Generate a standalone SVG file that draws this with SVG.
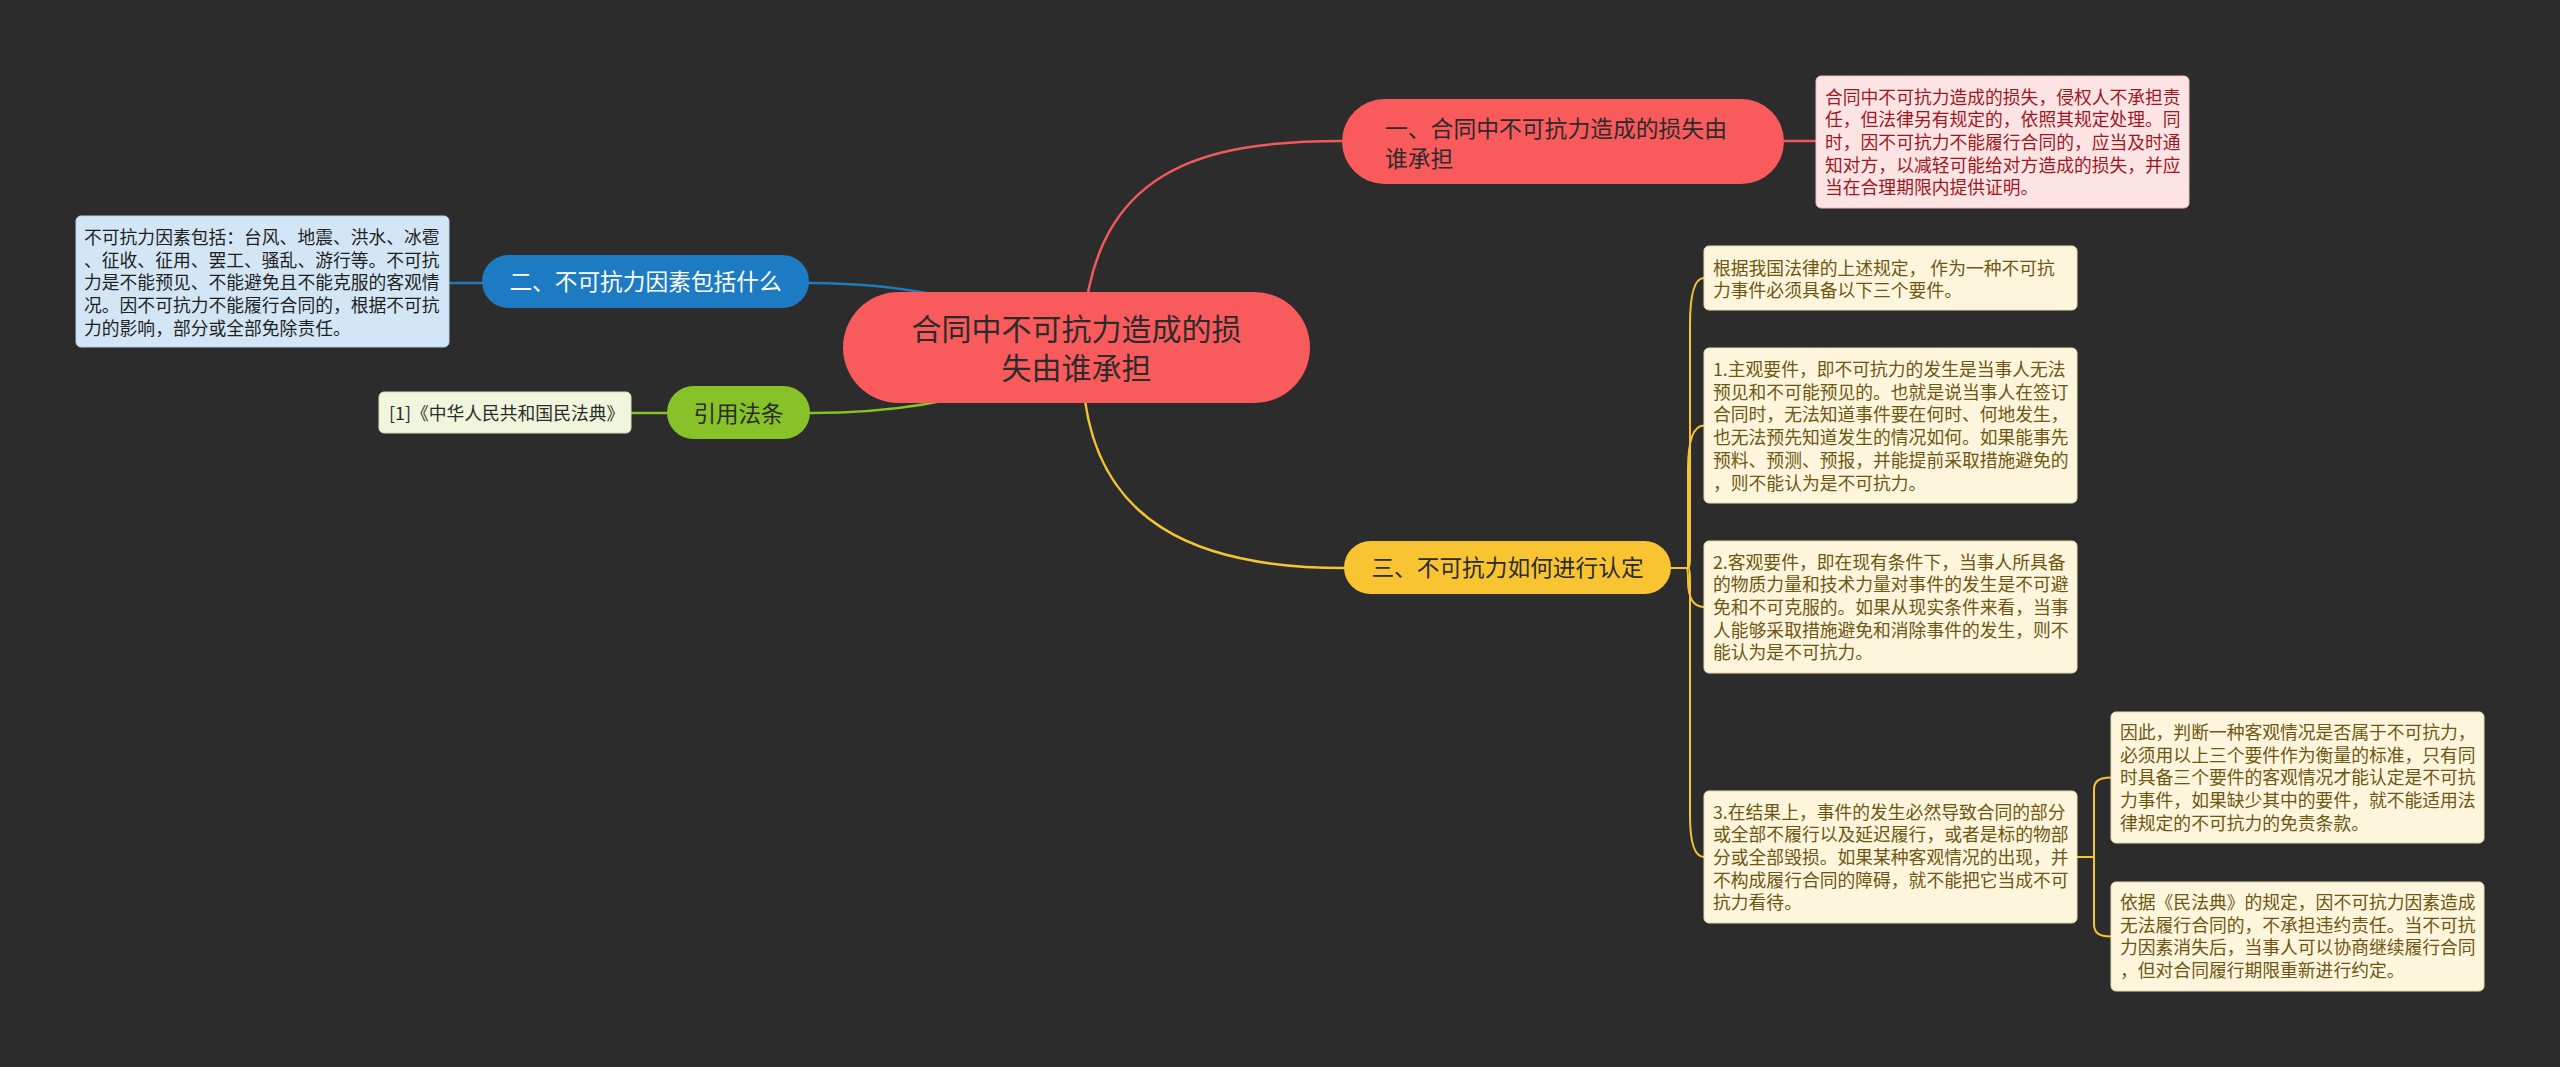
<svg xmlns="http://www.w3.org/2000/svg" width="2560" height="1067" viewBox="0 0 2560 1067">
<style>
text{font-family:"Noto Sans CJK SC","Noto Sans",sans-serif}
.ln{fill:none;stroke-width:2.5;stroke-linecap:round}
.t18{font-size:17.8px}
.ybox{fill:#fdf5dc;stroke:#e9dcae;stroke-width:1}
.ytx{fill:#6e5712}
</style>
<rect width="2560" height="1067" fill="#2c2c2c"/>
<g id="connectors">
<path class="ln" stroke="#f0595b" d="M1083,330 C1095,170 1200,141 1342,141"/>
<path class="ln" stroke="#f0595b" d="M1784,141 H1816"/>
<path class="ln" stroke="#1f7ac0" d="M1076,347 C1000,300 900,283 809,283"/>
<path class="ln" stroke="#1f7ac0" d="M482,283 H449"/>
<path class="ln" stroke="#86c228" d="M1076,347 C1000,400 900,413 810,413"/>
<path class="ln" stroke="#86c228" d="M667,413 H631"/>
<path class="ln" stroke="#f6c433" d="M1083,380 C1092,525 1200,568 1344,568"/>
<g stroke="#f6c433" fill="none" stroke-width="2">
<path d="M1671,568 H1688 C1690,568 1690,560 1690,550 V325 C1690,295 1694,278 1704,278"/>
<path d="M1671,568 H1688 V470 C1688,440 1693,425.5 1704,425.5"/>
<path d="M1671,568 H1686 C1688,568 1688,575 1688,580 C1688,598 1693,607 1704,607"/>
<path d="M1671,568 H1688 C1690,568 1690,576 1690,586 V815 C1690,842 1694,857 1704,857"/>
<path d="M2077,857 H2094 V790 C2094,781 2099,777.5 2111,777.5"/>
<path d="M2077,857 H2094 V924 C2094,933 2099,936.5 2111,936.5"/>
</g>
</g>
<g id="root">
<rect x="843" y="292" width="467" height="111" rx="55.5" fill="#f95a5c"/>
<text x="1076.5" y="339.5" font-size="30" text-anchor="middle" fill="#2b2b2b">合同中不可抗力造成的损</text>
<text x="1076.5" y="378.5" font-size="30" text-anchor="middle" fill="#2b2b2b">失由谁承担</text>
</g>
<g id="node1">
<rect x="1342" y="99" width="442" height="85" rx="42.5" fill="#f95a5c"/>
<text x="1385" y="137" font-size="22.8" fill="#2b2b2b">一、合同中不可抗力造成的损失由</text>
<text x="1385" y="167" font-size="22.8" fill="#2b2b2b">谁承担</text>
</g>
<g id="node1-detail">
<rect x="1816" y="76" width="373" height="132" rx="5" fill="#fde4e4" stroke="#eab9b9"/>
<g class="t18" fill="#a1161d">
<text x="1825" y="103.5">合同中不可抗力造成的损失，侵权人不承担责</text>
<text x="1825" y="126.2">任，但法律另有规定的，依照其规定处理。同</text>
<text x="1825" y="148.9">时，因不可抗力不能履行合同的，应当及时通</text>
<text x="1825" y="171.6">知对方，以减轻可能给对方造成的损失，并应</text>
<text x="1825" y="194.3">当在合理期限内提供证明。</text>
</g>
</g>
<g id="node2">
<rect x="482" y="255" width="327" height="53" rx="26.5" fill="#1c7bc3"/>
<text x="645.5" y="290.3" font-size="22.7" text-anchor="middle" fill="#ffffff">二、不可抗力因素包括什么</text>
</g>
<g id="node2-detail">
<rect x="76" y="216" width="373" height="131" rx="5" fill="#d3e6f5" stroke="#b7d2e8"/>
<g class="t18" fill="#1f1f1f">
<text x="84" y="244">不可抗力因素包括：台风、地震、洪水、冰雹</text>
<text x="84" y="266.7">、征收、征用、罢工、骚乱、游行等。不可抗</text>
<text x="84" y="289.4">力是不能预见、不能避免且不能克服的客观情</text>
<text x="84" y="312.1">况。因不可抗力不能履行合同的，根据不可抗</text>
<text x="84" y="334.8">力的影响，部分或全部免除责任。</text>
</g>
</g>
<g id="node-ref">
<rect x="667" y="386" width="143" height="53" rx="26.5" fill="#86c228"/>
<text x="738.5" y="421.7" font-size="22.5" text-anchor="middle" fill="#2b2b2b">引用法条</text>
</g>
<g id="node-ref-detail">
<rect x="379" y="392" width="252" height="41" rx="5" fill="#eff6dc" stroke="#d3e3b0"/>
<text x="389" y="419.8" class="t18" fill="#2b2b2b">[1]《中华人民共和国民法典》</text>
</g>
<g id="node3">
<rect x="1344" y="541" width="327" height="53" rx="26.5" fill="#f8c432"/>
<text x="1507.5" y="576.2" font-size="22.7" text-anchor="middle" fill="#2b2b2b">三、不可抗力如何进行认定</text>
</g>
<g id="node3-a">
<rect class="ybox" x="1704" y="246" width="373" height="64" rx="5"/>
<g class="t18 ytx">
<text x="1713" y="274.5">根据我国法律的上述规定， 作为一种不可抗</text>
<text x="1713" y="297.2">力事件必须具备以下三个要件。</text>
</g>
</g>
<g id="node3-b">
<rect class="ybox" x="1704" y="348" width="373" height="155" rx="5"/>
<g class="t18 ytx">
<text x="1713" y="376">1.主观要件，即不可抗力的发生是当事人无法</text>
<text x="1713" y="398.7">预见和不可能预见的。也就是说当事人在签订</text>
<text x="1713" y="421.4">合同时，无法知道事件要在何时、何地发生，</text>
<text x="1713" y="444.1">也无法预先知道发生的情况如何。如果能事先</text>
<text x="1713" y="466.8">预料、预测、预报，并能提前采取措施避免的</text>
<text x="1713" y="489.5">，则不能认为是不可抗力。</text>
</g>
</g>
<g id="node3-c">
<rect class="ybox" x="1704" y="541" width="373" height="132" rx="5"/>
<g class="t18 ytx">
<text x="1713" y="568.5">2.客观要件，即在现有条件下，当事人所具备</text>
<text x="1713" y="591.2">的物质力量和技术力量对事件的发生是不可避</text>
<text x="1713" y="613.9">免和不可克服的。如果从现实条件来看，当事</text>
<text x="1713" y="636.6">人能够采取措施避免和消除事件的发生，则不</text>
<text x="1713" y="659.3">能认为是不可抗力。</text>
</g>
</g>
<g id="node3-d">
<rect class="ybox" x="1704" y="791" width="373" height="132" rx="5"/>
<g class="t18 ytx">
<text x="1713" y="818.5">3.在结果上，事件的发生必然导致合同的部分</text>
<text x="1713" y="841.2">或全部不履行以及延迟履行，或者是标的物部</text>
<text x="1713" y="863.9">分或全部毁损。如果某种客观情况的出现，并</text>
<text x="1713" y="886.6">不构成履行合同的障碍，就不能把它当成不可</text>
<text x="1713" y="909.3">抗力看待。</text>
</g>
</g>
<g id="node3-e">
<rect class="ybox" x="2111" y="712" width="373" height="131" rx="5"/>
<g class="t18 ytx">
<text x="2120" y="739">因此，判断一种客观情况是否属于不可抗力，</text>
<text x="2120" y="761.7">必须用以上三个要件作为衡量的标准，只有同</text>
<text x="2120" y="784.4">时具备三个要件的客观情况才能认定是不可抗</text>
<text x="2120" y="807.1">力事件，如果缺少其中的要件，就不能适用法</text>
<text x="2120" y="829.8">律规定的不可抗力的免责条款。</text>
</g>
</g>
<g id="node3-f">
<rect class="ybox" x="2111" y="882" width="373" height="109" rx="5"/>
<g class="t18 ytx">
<text x="2120" y="909">依据《民法典》的规定，因不可抗力因素造成</text>
<text x="2120" y="931.7">无法履行合同的，不承担违约责任。当不可抗</text>
<text x="2120" y="954.4">力因素消失后，当事人可以协商继续履行合同</text>
<text x="2120" y="977.1">，但对合同履行期限重新进行约定。</text>
</g>
</g>
</svg>
